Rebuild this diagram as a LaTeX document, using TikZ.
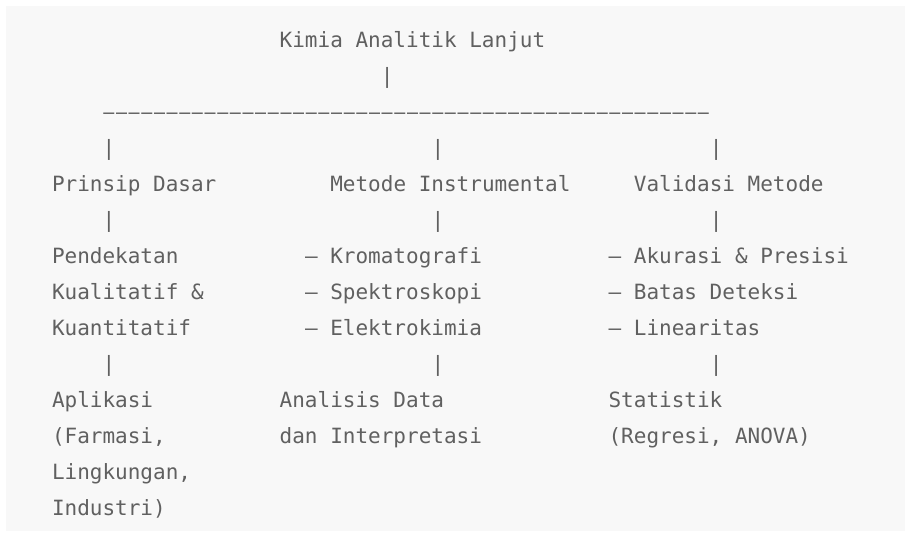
\documentclass[tikz,border=0pt]{standalone}
\usepackage{fontspec}
\setmonofont{DejaVu Sans Mono}
\definecolor{pagebg}{RGB}{255,255,255}
\definecolor{codebg}{RGB}{248,248,248}
\definecolor{codeink}{RGB}{96,96,96}
% grid of a monospaced text block: cell width, first baseline, line pitch
\newcommand{\cellw}{12.65}
\newcommand{\colzero}{52}
\newcommand{\rowzero}{47.7}
\newcommand{\rowpitch}{36}
\tikzset{
  txt/.style={anchor=base west, inner sep=0pt, outer sep=0pt,
    font=\fontsize{10.5pt}{18pt}\ttfamily, text=codeink},
  railcell/.style={txt, anchor=base},
}
% place a text cell at column #1, row #2
\newcommand{\cellat}[2]{({\colzero+(#1)*\cellw},{\rowzero+(#2)*\rowpitch})}
% centre of the cell at column #1, row #2
\newcommand{\cellmid}[2]{({\colzero+(#1+0.5)*\cellw},{\rowzero+(#2)*\rowpitch})}
\begin{document}
\begin{tikzpicture}[x=0.5pt,y=-0.5pt]
  \fill[pagebg] (0,0) rectangle (905,536);
  \useasboundingbox (0,0) rectangle (905,536);
  \fill[codebg] (6,6) rectangle (905,531);

  % root and its stem
  \node[txt] (root) at \cellat{18}{0} {Kimia Analitik Lanjut};
  \node[txt] (rootbar) at \cellat{26}{1} {|};
  % horizontal rail: one dash per cell, columns 4 to 51
  \foreach \c in {4,...,51}
    \node[railcell] (rail-\c) at \cellmid{\c}{2} {\scalebox{0.87}[1]{–}};

  % drops to the three branches
  \node[txt] (barA1) at \cellat{4}{3} {|};
  \node[txt] (barB1) at \cellat{30}{3} {|};
  \node[txt] (barC1) at \cellat{52}{3} {|};

  \node[txt] (prinsip) at \cellat{0}{4} {Prinsip Dasar};
  \node[txt] (metode) at \cellat{22}{4} {Metode Instrumental};
  \node[txt] (validasi) at \cellat{46}{4} {Validasi Metode};

  \node[txt] (barA2) at \cellat{4}{5} {|};
  \node[txt] (barB2) at \cellat{30}{5} {|};
  \node[txt] (barC2) at \cellat{52}{5} {|};

  % second level
  \node[txt] (pendA) at \cellat{0}{6} {Pendekatan};
  \node[txt] (pendB) at \cellat{0}{7} {Kualitatif \&};
  \node[txt] (pendC) at \cellat{0}{8} {Kuantitatif};

  \node[txt] (krom) at \cellat{20}{6} {– Kromatografi};
  \node[txt] (spek) at \cellat{20}{7} {– Spektroskopi};
  \node[txt] (elek) at \cellat{20}{8} {– Elektrokimia};

  \node[txt] (akur) at \cellat{44}{6} {– Akurasi \& Presisi};
  \node[txt] (batas) at \cellat{44}{7} {– Batas Deteksi};
  \node[txt] (linear) at \cellat{44}{8} {– Linearitas};

  \node[txt] (barA3) at \cellat{4}{9} {|};
  \node[txt] (barB3) at \cellat{30}{9} {|};
  \node[txt] (barC3) at \cellat{52}{9} {|};

  % third level
  \node[txt] (aplA) at \cellat{0}{10} {Aplikasi};
  \node[txt] (aplB) at \cellat{0}{11} {(Farmasi,};
  \node[txt] (aplC) at \cellat{0}{12} {Lingkungan,};
  \node[txt] (aplD) at \cellat{0}{13} {Industri)};

  \node[txt] (anaA) at \cellat{18}{10} {Analisis Data};
  \node[txt] (anaB) at \cellat{18}{11} {dan Interpretasi};

  \node[txt] (statA) at \cellat{44}{10} {Statistik};
  \node[txt] (statB) at \cellat{44}{11} {(Regresi, ANOVA)};
\end{tikzpicture}
\end{document}
